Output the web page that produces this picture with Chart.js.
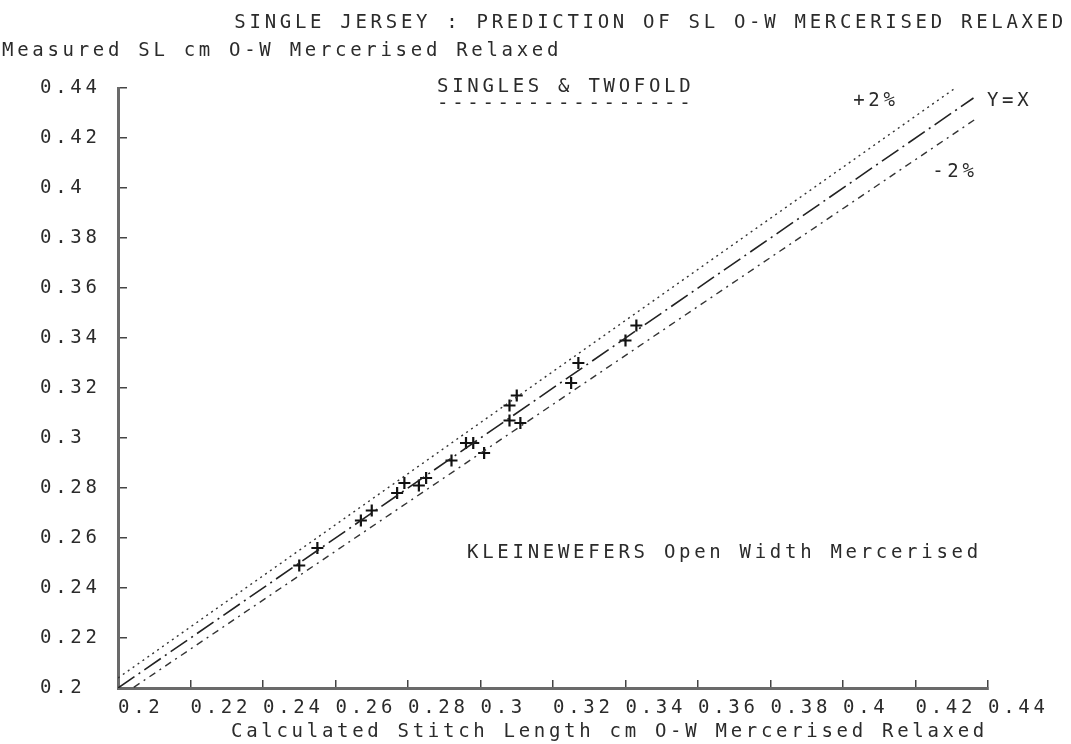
<!DOCTYPE html>
<html>
<head>
<meta charset="utf-8">
<title>Single Jersey SL prediction</title>
<script src="https://cdn.jsdelivr.net/npm/chart.js@4.4.1/dist/chart.umd.min.js"></script>
<style>
  body { margin: 0; background: #fff; }
</style>
</head>
<body>
<canvas id="myChart" width="1071" height="744"></canvas>
<script>
// calculated vs measured stitch length (cm), O-W mercerised relaxed
var calcSL = [0.250, 0.255, 0.267, 0.270, 0.277, 0.279, 0.283, 0.285, 0.292, 0.296,
              0.298, 0.301, 0.308, 0.310, 0.308, 0.311, 0.325, 0.327, 0.340, 0.343];
var measSL = [0.249, 0.256, 0.267, 0.271, 0.278, 0.282, 0.281, 0.284, 0.291, 0.298,
              0.298, 0.294, 0.313, 0.317, 0.307, 0.306, 0.322, 0.330, 0.339, 0.345];

// reference lines: Y=X and the +/-2% band
var diagX  = [0.2, 0.436];
var diagY  = [0.2, 0.436];
var plusX  = [0.2, 0.431];
var plusY  = [0.204, 0.44];
var minusX = [0.2, 0.437];
var minusY = [0.196, 0.428];

var xTicks = [0.2, 0.22, 0.24, 0.26, 0.28, 0.3, 0.32, 0.34, 0.36, 0.38, 0.4, 0.42, 0.44];
var yTicks = [0.2, 0.22, 0.24, 0.26, 0.28, 0.3, 0.32, 0.34, 0.36, 0.38, 0.4, 0.42, 0.44];
var tickLabels = ['0.2', '0.22', '0.24', '0.26', '0.28', '0.3', '0.32', '0.34', '0.36', '0.38', '0.4', '0.42', '0.44'];

var titleText = 'SINGLE JERSEY : PREDICTION OF SL O-W MERCERISED RELAXED';
var yCaption = 'Measured SL cm O-W Mercerised Relaxed';
var xCaption = 'Calculated Stitch Length cm O-W Mercerised Relaxed';
var subTitle = 'SINGLES & TWOFOLD';
var machineNote = 'KLEINEWEFERS Open Width Mercerised';

var FONT = "'DejaVu Sans Mono', monospace";
var ink = '#2b2b2b';
var spacing = '3.7px';

function pairs(xs, ys) {
  return xs.map(function (v, i) { return { x: v, y: ys[i] }; });
}

// plotter style lettering: wide letter spacing, free text placed by hand
var plotterText = {
  id: 'plotterText',
  beforeLayout: function (chart) { chart.ctx.letterSpacing = spacing; },
  beforeDraw: function (chart) { chart.ctx.letterSpacing = spacing; },
  afterDraw: function (chart) {
    var ctx = chart.ctx;
    var xs = chart.scales.x, ys = chart.scales.y;
    ctx.save();
    ctx.letterSpacing = spacing;
    ctx.fillStyle = ink;
    ctx.font = '19px ' + FONT;
    ctx.textBaseline = 'middle';

    ctx.textAlign = 'right';
    ctx.fillText(titleText, 1067, 23);

    ctx.textAlign = 'left';
    ctx.fillText(yCaption, 2, 51);
    ctx.fillText(subTitle, 437, 87);
    ctx.fillText('-'.repeat(subTitle.length), 437, 104);

    // line labels and machine note, in data units
    ctx.fillText('+2%', xs.getPixelForValue(0.4028), ys.getPixelForValue(0.4348));
    ctx.fillText('Y=X', xs.getPixelForValue(0.4397), ys.getPixelForValue(0.4348));
    ctx.fillText('-2%', xs.getPixelForValue(0.4246), ys.getPixelForValue(0.4064));
    ctx.fillText(machineNote, xs.getPixelForValue(0.2963), ys.getPixelForValue(0.254));
    ctx.restore();
  }
};

var tickFont = { family: FONT, size: 19 };

var ctx = document.getElementById('myChart').getContext('2d');
var chart = new Chart(ctx, {
  type: 'scatter',
  data: {
    datasets: [{
      label: 'Y=X',
      data: pairs(diagX, diagY),
      showLine: true,
      borderColor: '#222',
      borderWidth: 1.6,
      borderDash: [20, 5, 2, 5],
      pointRadius: 0
    }, {
      label: '+2%',
      data: pairs(plusX, plusY),
      showLine: true,
      borderColor: '#333',
      borderWidth: 1.4,
      borderDash: [2, 4],
      pointRadius: 0
    }, {
      label: '-2%',
      data: pairs(minusX, minusY),
      showLine: true,
      borderColor: '#333',
      borderWidth: 1.4,
      borderDash: [7, 5, 2, 5],
      pointRadius: 0
    }, {
      label: 'Singles & Twofold',
      data: pairs(calcSL, measSL),
      showLine: false,
      pointStyle: 'cross',
      pointRadius: 6,
      pointHoverRadius: 6,
      borderColor: '#111',
      borderWidth: 2.2
    }]
  },
  options: {
    responsive: false,
    animation: false,
    layout: { padding: { left: 40, top: 88, right: 83, bottom: 0 } },
    plugins: {
      legend: { display: false },
      tooltip: { enabled: false }
    },
    scales: {
      x: {
        type: 'linear',
        min: 0.2,
        max: 0.44,
        afterBuildTicks: function (s) { s.ticks = xTicks.map(function (v) { return { value: v }; }); },
        afterFit: function (s) { s.height = 56; },
        ticks: {
          callback: function (v, i) { return tickLabels[i]; },
          align: 'start',
          autoSkip: false,
          maxRotation: 0,
          font: tickFont,
          color: ink,
          padding: 17
        },
        grid: { drawOnChartArea: false, tickLength: -8, color: '#444', lineWidth: 1.5 },
        border: { color: '#6a6a6a', width: 3 },
        title: {
          display: true,
          text: xCaption,
          align: 'end',
          font: tickFont,
          color: ink,
          padding: { top: 0, bottom: 1 }
        }
      },
      y: {
        type: 'linear',
        min: 0.2,
        max: 0.44,
        afterBuildTicks: function (s) { s.ticks = yTicks.map(function (v) { return { value: v }; }); },
        afterFit: function (s) { s.width = 78; },
        ticks: {
          callback: function (v, i) { return tickLabels[i]; },
          crossAlign: 'far',
          autoSkip: false,
          font: tickFont,
          color: ink
        },
        grid: { drawOnChartArea: false, tickLength: -9, color: '#444', lineWidth: 1.5 },
        border: { color: '#6a6a6a', width: 3 }
      }
    }
  },
  plugins: [plotterText]
});
</script>
</body>
</html>
